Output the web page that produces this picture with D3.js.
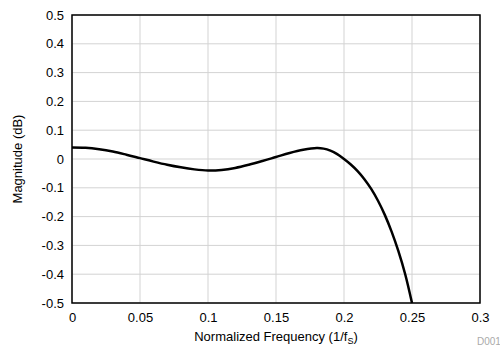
<!DOCTYPE html>
<html><head><meta charset="utf-8">
<script src="https://cdn.jsdelivr.net/npm/d3@7"></script>
<style>body{margin:0;background:#fff}svg{display:block}text{font-family:"Liberation Sans",Arial,sans-serif}</style>
</head><body><svg id="c" width="500" height="349"></svg>
<script>
const freq = [0,0.01,0.02,0.03,0.04,0.05,0.06,0.07,0.08,0.09,0.10,0.11,0.12,0.13,0.14,0.15,0.16,0.17,0.18,0.185,0.19,0.195,0.20,0.205,0.21,0.215,0.22,0.225,0.23,0.235,0.24,0.245,0.25];
const magnitude = [0.040,0.039,0.034,0.026,0.015,0.003,-0.009,-0.020,-0.029,-0.036,-0.040,-0.038,-0.031,-0.020,-0.007,0.007,0.021,0.032,0.038,0.036,0.029,0.017,0.000,-0.019,-0.042,-0.070,-0.104,-0.145,-0.194,-0.252,-0.320,-0.400,-0.500];
const xTicks = [0,0.05,0.1,0.15,0.2,0.25,0.3];
const yTicks = [0.5,0.4,0.3,0.2,0.1,0,-0.1,-0.2,-0.3,-0.4,-0.5];

const svg = d3.select("#c");
const L=72,R=480,T=15,B=303;
const x = d3.scaleLinear().domain([0,0.3]).range([L,R]);
const y = d3.scaleLinear().domain([-0.5,0.5]).range([B,T]);

const g = svg.append("g");
g.selectAll(".gx").data(xTicks).join("line").attr("x1",d=>x(d)).attr("x2",d=>x(d)).attr("y1",T).attr("y2",B).attr("stroke","#d3d3d3").attr("stroke-width",1);
g.selectAll(".gy").data(yTicks).join("line").attr("x1",L).attr("x2",R).attr("y1",d=>y(d)).attr("y2",d=>y(d)).attr("stroke","#d3d3d3").attr("stroke-width",1);

const line = d3.line().x((d,i)=>x(freq[i])).y(d=>y(d)).curve(d3.curveCatmullRom.alpha(0.5));
svg.append("path").datum(magnitude).attr("d",line).attr("fill","none").attr("stroke","#000").attr("stroke-width",2.5);

svg.append("rect").attr("x",L).attr("y",T).attr("width",R-L).attr("height",B-T).attr("fill","none").attr("stroke","#000").attr("stroke-width",1.5);

const xa = d3.axisBottom(x).tickValues(xTicks).tickSize(0).tickPadding(10).tickFormat(d=>String(d));
const gxa = svg.append("g").attr("transform",`translate(0,${B})`).call(xa);
gxa.select(".domain").remove();
gxa.selectAll("text").attr("font-size",13).attr("fill","#000").attr("font-family","Liberation Sans, Arial, sans-serif");

const ya = d3.axisLeft(y).tickValues(yTicks).tickSize(0).tickPadding(8).tickFormat(d=>String(d));
const gya = svg.append("g").attr("transform",`translate(${L},0)`).call(ya);
gya.select(".domain").remove();
gya.selectAll("text").attr("font-size",13).attr("fill","#000").attr("font-family","Liberation Sans, Arial, sans-serif");

const xt = svg.append("text").attr("x",(L+R)/2).attr("y",341).attr("text-anchor","middle").attr("font-size",13).attr("fill","#000");
xt.append("tspan").text("Normalized Frequency (1/f");
xt.append("tspan").attr("font-size",9).attr("dy",3).text("S");
xt.append("tspan").attr("dy",-3).text(")");

svg.append("text").attr("transform",`translate(22,${(T+B)/2}) rotate(-90)`).attr("text-anchor","middle").attr("font-size",13).attr("fill","#000").text("Magnitude (dB)");

svg.append("text").attr("x",477).attr("y",345).attr("font-size",10).attr("fill","#aaa").text("D001");
</script></body></html>
